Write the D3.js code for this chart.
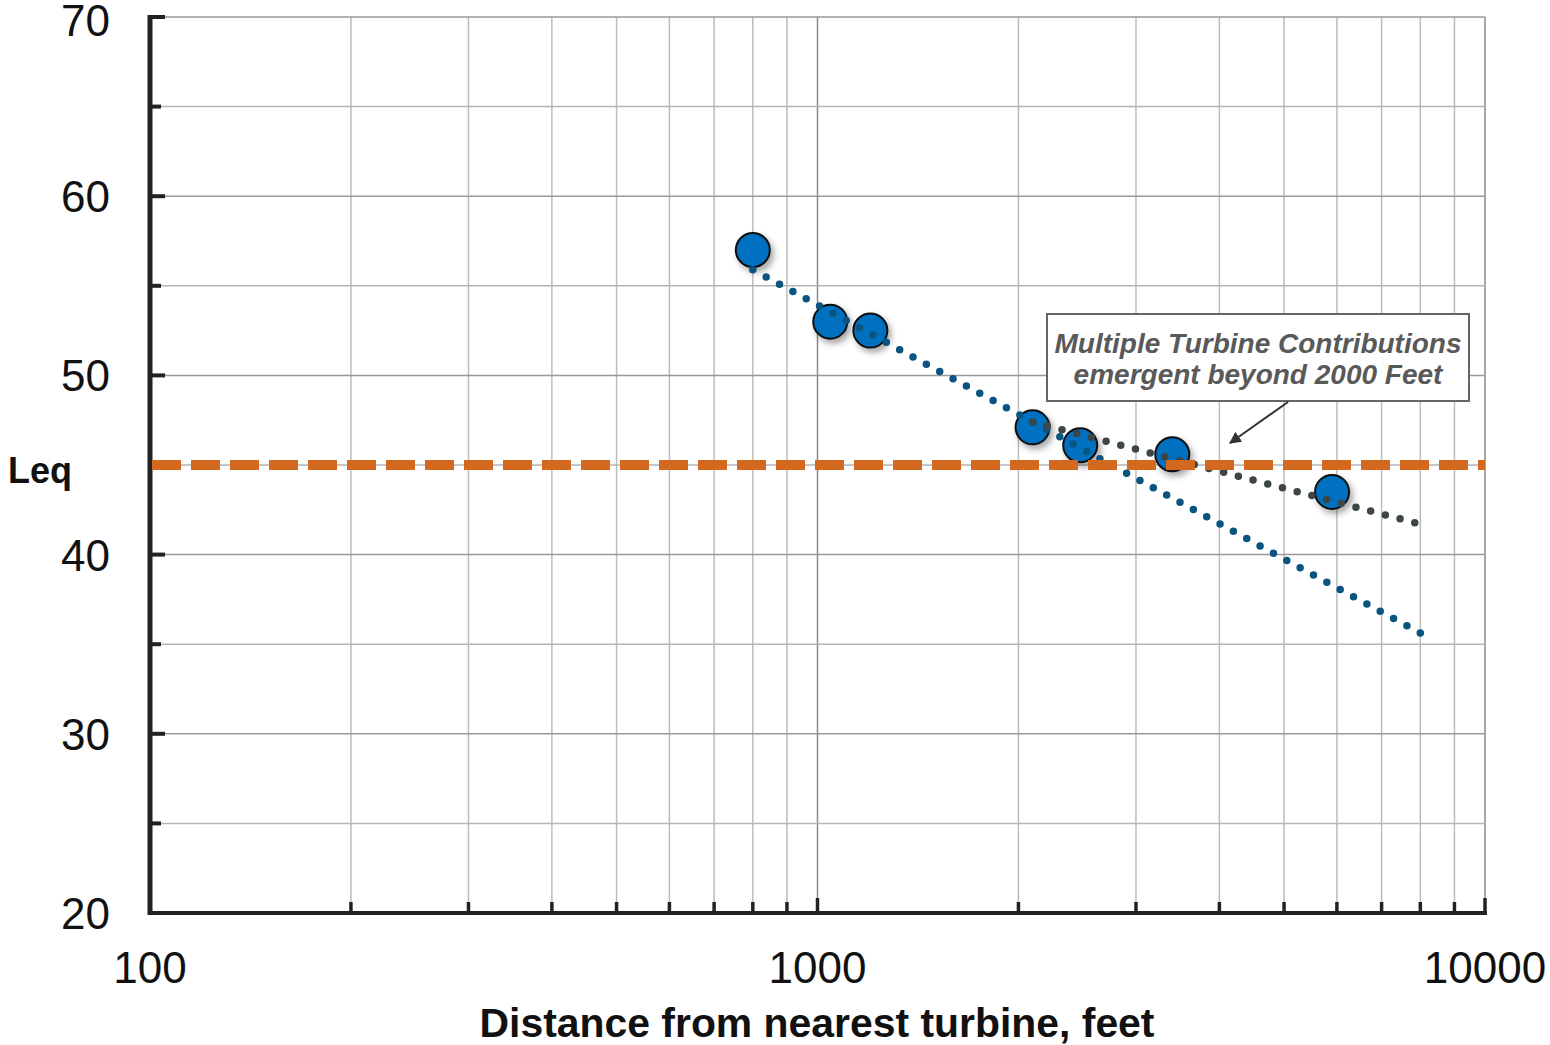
<!DOCTYPE html>
<html>
<head>
<meta charset="utf-8">
<script src="https://cdn.jsdelivr.net/npm/d3@7"></script>
<style>
  html, body { margin: 0; padding: 0; background: #fff; }
  svg { display: block; font-family: "Liberation Sans", Arial, sans-serif; }
</style>
</head>
<body>
<svg id="chart" width="1550" height="1045"></svg>
<script>
// measured points (distance in feet, Leq in dB)
const distances = [800, 1045, 1200, 2100, 2475, 3400, 5900];
const leqValues = [57.0, 53.0, 52.5, 47.1, 46.1, 45.6, 43.5];

// single turbine trend and multiple turbine trend (end points, log fit)
const nearTrendDist = [800, 8200];
const nearTrendLeq = [55.9, 35.4];
const farTrendDist = [2100, 8000];
const farTrendLeq = [47.4, 41.7];

// criterion line
const criterionLeq = 45;

const yTickValues = [20, 30, 40, 50, 60, 70];
const yMinorValues = [25, 35, 45, 55, 65];
const xTickValues = [100, 1000, 10000];
const xMinorValues = [200, 300, 400, 500, 600, 700, 800, 900, 2000, 3000, 4000, 5000, 6000, 7000, 8000, 9000];

const noteLines = ['Multiple Turbine Contributions', 'emergent beyond 2000 Feet'];

const svg = d3.select('#chart');
const [pLeft, pRight, pTop, pBottom] = [150, 1485, 17, 913];

const x = d3.scaleLog().domain([100, 10000]).range([pLeft, pRight]);
const y = d3.scaleLinear().domain([20, 70]).range([pBottom, pTop]);

// shadow for the markers
const defs = svg.append('defs');
const f = defs.append('filter').attr('id', 'shadow').attr('x', '-50%').attr('y', '-50%').attr('width', '200%').attr('height', '200%');
f.append('feDropShadow').attr('dx', 3).attr('dy', 4).attr('stdDeviation', 3).attr('flood-color', '#000').attr('flood-opacity', 0.35);
defs.append('marker').attr('id', 'arrow').attr('viewBox', '0 0 10 10').attr('refX', 9).attr('refY', 5)
  .attr('markerWidth', 6).attr('markerHeight', 6).attr('orient', 'auto-start-reverse')
  .append('path').attr('d', 'M0,0 L10,5 L0,10 z').attr('fill', '#333');

// grid
const grid = svg.append('g');
grid.selectAll('.vmin').data(xMinorValues).enter().append('line')
  .attr('x1', d => x(d)).attr('x2', d => x(d)).attr('y1', pTop).attr('y2', pBottom)
  .attr('stroke', '#bdbdbd').attr('stroke-width', 1.5);
grid.selectAll('.vmaj').data(xTickValues.slice(1)).enter().append('line')
  .attr('x1', d => x(d)).attr('x2', d => x(d)).attr('y1', pTop).attr('y2', pBottom)
  .attr('stroke', '#8a8a8a').attr('stroke-width', 1.5);
grid.selectAll('.hmin').data(yMinorValues).enter().append('line')
  .attr('x1', pLeft).attr('x2', pRight).attr('y1', d => y(d)).attr('y2', d => y(d))
  .attr('stroke', '#b5b5b5').attr('stroke-width', 1.5);
grid.selectAll('.hmaj').data(yTickValues.slice(1)).enter().append('line')
  .attr('x1', pLeft).attr('x2', pRight).attr('y1', d => y(d)).attr('y2', d => y(d))
  .attr('stroke', '#999').attr('stroke-width', 1.5);

// axes
const axis = svg.append('g').attr('stroke', '#222');
axis.append('line').attr('x1', pLeft).attr('x2', pLeft).attr('y1', pTop - 2).attr('y2', pBottom + 2).attr('stroke-width', 5);
axis.append('line').attr('x1', pLeft - 2).attr('x2', pRight + 2).attr('y1', pBottom).attr('y2', pBottom).attr('stroke-width', 4);
axis.selectAll('.yt').data(yTickValues.concat(yMinorValues)).enter().append('line')
  .attr('x1', pLeft).attr('x2', d => pLeft + (d % 10 === 0 ? 15 : 11))
  .attr('y1', d => y(d)).attr('y2', d => y(d)).attr('stroke-width', 4);
axis.selectAll('.xt').data(xTickValues.concat(xMinorValues)).enter().append('line')
  .attr('x1', d => x(d)).attr('x2', d => x(d))
  .attr('y1', pBottom).attr('y2', d => pBottom - (xTickValues.includes(d) ? 15 : 11)).attr('stroke-width', 3.5);

// tick labels (top one kept just inside the page)
svg.append('g').selectAll('text').data(yTickValues).enter().append('text')
  .attr('x', 110).attr('y', d => Math.max(y(d) + 16, 36)).attr('text-anchor', 'end')
  .attr('font-size', 44).attr('fill', '#111').text(d => d);
svg.append('g').selectAll('text').data(xTickValues).enter().append('text')
  .attr('x', d => x(d)).attr('y', 983).attr('text-anchor', 'middle')
  .attr('font-size', 44).attr('fill', '#111').text(d => d);

// axis titles
svg.append('text').attr('x', 817).attr('y', 1037).attr('text-anchor', 'middle')
  .attr('font-size', 40).attr('font-weight', 'bold').attr('fill', '#111')
  .attr('textLength', 675).attr('lengthAdjust', 'spacingAndGlyphs')
  .text('Distance from nearest turbine, feet');
svg.append('text').attr('x', 8).attr('y', 483)
  .attr('font-size', 36).attr('font-weight', 'bold').attr('fill', '#111').text('Leq');

// markers
const pts = distances.map((d, i) => ({d: d, v: leqValues[i]}));
svg.append('g').selectAll('circle').data(pts).enter().append('circle')
  .attr('cx', p => x(p.d)).attr('cy', p => y(p.v)).attr('r', 17)
  .attr('fill', '#0070c0').attr('stroke', '#111').attr('stroke-width', 2)
  .attr('filter', 'url(#shadow)');

// dotted trend lines
const line = d3.line().x(p => x(p.d)).y(p => y(p.v));
const nearTrend = nearTrendDist.map((d, i) => ({d: d, v: nearTrendLeq[i]}));
const farTrend = farTrendDist.map((d, i) => ({d: d, v: farTrendLeq[i]}));
svg.append('path').datum(nearTrend).attr('d', line).attr('fill', 'none')
  .attr('stroke', '#0a5580').attr('stroke-width', 7.5).attr('stroke-linecap', 'round')
  .attr('stroke-dasharray', '0 15.2');
svg.append('path').datum(farTrend).attr('d', line).attr('fill', 'none')
  .attr('stroke', '#3c4646').attr('stroke-width', 7.5).attr('stroke-linecap', 'round')
  .attr('stroke-dasharray', '0 15.2');

// criterion line
svg.append('line').attr('x1', pLeft + 2).attr('x2', pRight).attr('y1', y(criterionLeq)).attr('y2', y(criterionLeq))
  .attr('stroke', '#d2691f').attr('stroke-width', 10).attr('stroke-dasharray', '29 10');

// annotation
const note = svg.append('g');
note.append('rect').attr('x', 1047).attr('y', 314).attr('width', 422).attr('height', 87)
  .attr('fill', '#fff').attr('stroke', '#666').attr('stroke-width', 2);
note.selectAll('text').data(noteLines).enter().append('text')
  .attr('x', 1258).attr('y', (d, i) => 353 + i * 31).attr('text-anchor', 'middle')
  .attr('font-size', 28).attr('font-weight', 'bold').attr('font-style', 'italic')
  .attr('fill', '#595959').text(d => d);
note.append('line').attr('x1', 1288).attr('y1', 402).attr('x2', 1230).attr('y2', 443)
  .attr('stroke', '#333').attr('stroke-width', 2).attr('marker-end', 'url(#arrow)');
</script>
</body>
</html>
